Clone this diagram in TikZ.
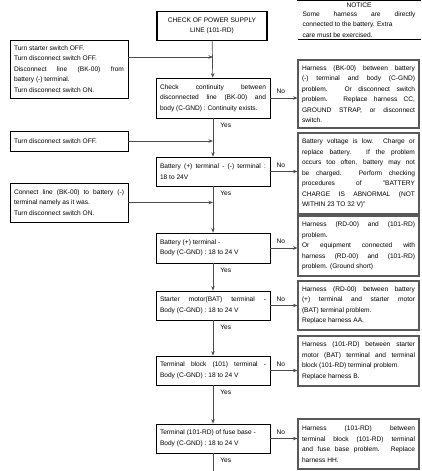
\documentclass[tikz,border=0pt]{standalone}
\usepackage{fontspec}
\setmainfont{Liberation Sans}
\usetikzlibrary{arrows.meta}

\tikzset{
    boxtext/.style={font=\fontsize{6.6}{10.5}\selectfont, align=justify, inner xsep=4pt, inner ysep=3pt},
    mainbox/.style={boxtext, draw, line width=0.7pt, text width=106pt, minimum height=29pt},
    sidebox/.style={boxtext, draw, line width=0.6pt, text width=110pt},
    resultbox/.style={boxtext, draw=black!65, line width=1.1pt, text width=113pt},
    flow/.style={draw=black!70, line width=0.7pt, -{Stealth[length=4.5pt,width=3.5pt]}},
    answer/.style={font=\fontsize{6.6}{7}\selectfont, inner sep=1pt}
}

\begin{document}
\begin{tikzpicture}[x=1pt, y=-1pt]
    \useasboundingbox (0,0) rectangle (421,471);
    \hyphenpenalty=10000

    % title and notice
    \node[draw, line width=1.5pt, font=\fontsize{6.6}{10.5}\selectfont, align=center,
          minimum width=110pt, minimum height=29pt] (title) at (212,26)
          {CHECK OF POWER SUPPLY\\LINE (101-RD)};
    \node[answer, anchor=north] (noticehead) at (359,2) {NOTICE};
    \node[boxtext, text width=113pt, anchor=north, inner ysep=2pt] (notice) at (noticehead.south)
          {Some harness are directly\linebreak connected to the battery. Extra\\care must be exercised.};
    \draw[line width=0.6pt] (297,0.5) -- (421,0.5);
    \draw[line width=0.8pt] (notice.south west) -- (notice.south east -| 421,0);

    % checks
    \node[mainbox, minimum height=40pt] (m1) at (213,98)
          {Check continuity between\linebreak disconnected line (BK-00) and\linebreak body (C-GND) : Continuity exists.};
    \node[mainbox] (m2) at (213,171.5)
          {Battery (+) terminal - (-) terminal :\linebreak 18 to 24V};
    \node[mainbox, minimum height=30pt] (m3) at (213,248)
          {Battery (+) terminal -\\Body (C-GND) : 18 to 24 V};
    \node[mainbox] (m4) at (213,305.5)
          {Starter motor(BAT) terminal -\linebreak Body (C-GND) : 18 to 24 V};
    \node[mainbox] (m5) at (213,370.5)
          {Terminal block (101) terminal -\linebreak Body (C-GND) : 18 to 24 V};
    \node[mainbox] (m6) at (213,438.5)
          {Terminal (101-RD) of fuse base -\\Body (C-GND) : 18 to 24 V};

    % preparations
    \node[sidebox, minimum height=58pt] (l1) at (69,69)
          {Turn starter switch OFF.\\Turn disconnect switch OFF.\\Disconnect line (BK-00) from\linebreak battery (-) terminal.\\Turn disconnect switch ON.};
    \node[sidebox, minimum height=20pt] (l2) at (69,141)
          {Turn disconnect switch OFF.};
    \node[sidebox, minimum height=39pt] (l3) at (69,202.5)
          {Connect line (BK-00) to battery (-)\linebreak terminal namely as it was.\\Turn disconnect switch ON.};

    % results
    \node[resultbox, minimum height=68pt] (r1) at (358.5,94)
          {Harness (BK-00) between battery\linebreak (-) terminal and body (C-GND)\linebreak problem. Or disconnect switch\linebreak problem. Replace harness CC,\linebreak GROUND STRAP, or disconnect\linebreak switch.};
    \node[resultbox, minimum height=81pt] (r2) at (358.5,173.5)
          {Battery voltage is low. Charge or\linebreak replace battery. If the problem\linebreak occurs too often, battery may not\linebreak be charged. Perform checking\linebreak procedures of "BATTERY\linebreak CHARGE IS ABNORMAL (NOT\linebreak WITHIN 23 TO 32 V)"};
    \node[resultbox, minimum height=60pt] (r3) at (358.5,246)
          {Harness (RD-00) and (101-RD)\linebreak problem.\\Or equipment connected with\linebreak harness (RD-00) and (101-RD)\linebreak problem. (Ground short)};
    \node[resultbox, minimum height=49pt] (r4) at (358.5,305.5)
          {Harness (RD-00) between battery\linebreak (+) terminal and starter motor\linebreak (BAT) terminal problem.\\Replace harness AA.};
    \node[resultbox, minimum height=50pt] (r5) at (358.5,361)
          {Harness (101-RD) between starter\linebreak motor (BAT) terminal and terminal\linebreak block (101-RD) terminal problem.\\Replace harness B.};
    \node[resultbox, minimum height=50pt] (r6) at (358.5,444)
          {Harness (101-RD) between\linebreak terminal block (101-RD) terminal\linebreak and fuse base problem. Replace\linebreak harness HH.};

    \coordinate (j1) at (213,57);
    \coordinate (bottom) at (213,471);

    % spine
    \draw[flow] (title) -- (m1);
    \foreach \a/\b in {m1/m2, m2/m3, m3/m4, m4/m5, m5/m6} {
        \draw[flow] (\a) -- node[answer, at start, anchor=north west, xshift=6pt, yshift=-3pt] {Yes} (\b);
    }
    \draw[draw=black!70, line width=0.7pt] (m6) -- node[answer, at start, anchor=north west, xshift=6pt, yshift=-3pt] {Yes} (bottom);

    % no branches
    \foreach \a/\b in {m1/r1, m2/r2, m3/r3, m4/r4, m5/r5, m6/r6} {
        \draw[flow] (\a.east) -- node[answer, at start, anchor=south west, xshift=5pt, yshift=3pt] {No} (\b.west |- \a.east);
    }

    % preparations into spine
    \draw[flow] (l1.east |- j1) -- (j1);
    \draw[flow] (l2.east) -- (l2.east -| m2.north);
    \draw[flow] (l3.east) -- (l3.east -| m3.north);
\end{tikzpicture}
\end{document}
